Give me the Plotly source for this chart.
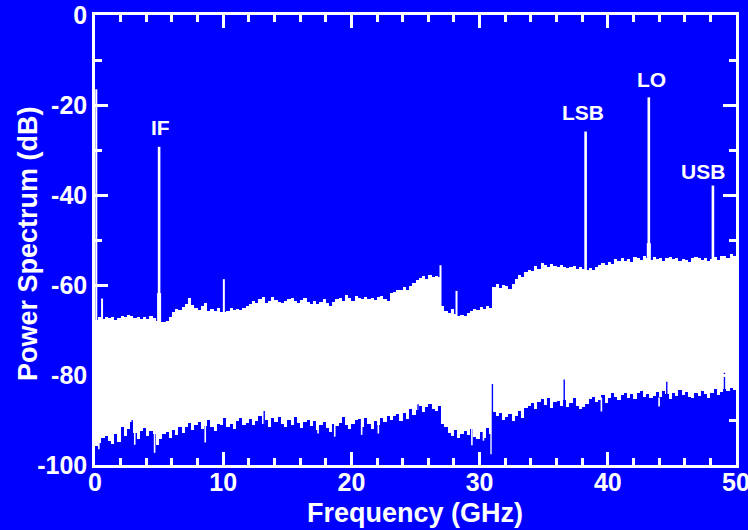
import plotly.graph_objects as go

# ---------------- data ----------------
bin_width = 0.25  # GHz
# upper envelope of the noise floor, 4 bins per GHz, 0..50 GHz
upper = [
    -67.8, -67.2, -67.6, -67.0,  -67.4, -67.1, -67.8, -67.3,  -66.9, -67.2, -66.7, -66.8,
    -67.3, -67.0, -67.6, -67.2,  -67.5, -66.9, -67.3, -68.0,  -68.2, -68.3, -68.0, -67.2,
    -66.0, -65.4, -65.6, -64.8,  -64.3, -62.9, -64.5, -65.2,  -65.6, -64.6, -64.0, -65.8,
    -65.3, -65.7, -65.1, -65.9,  -66.0, -65.8, -65.2, -65.6,  -65.4, -65.5, -65.0, -64.6,
    -64.2, -63.5, -64.0, -63.2,  -62.7, -63.9, -63.6, -62.6,  -63.4, -63.7, -64.1, -63.5,
    -63.1, -62.8, -63.6, -64.0,  -63.3, -62.9, -63.8, -64.2,  -63.5, -64.3, -63.7, -63.2,
    -63.9, -64.6, -63.8, -63.0,  -62.8, -63.5, -62.2, -62.9,  -63.6, -62.4, -62.9, -63.2,
    -62.6, -63.1, -62.8, -63.4,  -62.7, -62.5, -63.1, -63.6,  -61.8, -61.5, -61.2, -61.0,
    -60.4, -61.0, -60.2, -59.6,  -58.8, -58.4, -58.0, -58.6,  -57.8, -58.2, -57.9, -58.3,
    -64.6, -65.8, -66.2, -65.4,  -66.4, -66.8, -66.6, -66.9,  -66.2, -65.8, -65.3, -65.6,
    -64.9, -65.4, -64.6, -65.1,  -60.4, -59.8, -60.6, -59.9,  -60.2, -60.8, -59.7, -58.6,
    -57.8, -58.3, -57.2, -56.6,  -56.9, -55.8, -56.4, -55.2,  -55.6, -56.1, -55.4, -55.8,
    -56.0, -55.5, -55.9, -56.3,  -56.1, -55.7, -56.4, -56.0,  -56.5, -56.7, -56.2, -56.6,
    -55.9, -55.6, -55.2, -55.5,  -54.9, -55.3, -54.2, -54.6,  -54.0, -54.7, -54.3, -54.9,
    -53.8, -54.1, -54.5, -53.6,  -53.9, -54.4, -53.7, -54.2,  -54.0, -54.6, -54.1, -53.8,
    -54.3, -53.9, -54.7, -54.2,  -54.5, -54.9, -54.1, -53.7,  -53.9, -54.4, -54.0, -54.6,
    -54.2, -53.8, -54.5, -53.6,  -53.5, -53.9, -53.2, -53.6,
]
# lower envelope of the noise floor
lower = [
    -95.8, -95.2, -94.0, -93.5,  -94.6, -95.3, -93.2, -94.8,  -91.5, -93.6, -92.0, -90.4,
    -92.8, -94.2, -92.5, -91.8,  -93.6, -92.4, -93.0, -95.6,  -94.3, -93.1, -92.6, -94.0,
    -92.2, -93.4, -91.6, -92.8,  -91.5, -90.6, -92.3, -91.2,  -90.4, -92.1, -91.3, -90.0,
    -91.6, -92.4, -90.8, -91.0,  -89.6, -91.5, -90.8, -92.0,  -90.3, -89.5, -91.1, -90.6,
    -89.8, -91.0, -90.2, -89.1,  -90.8, -90.0, -91.5, -89.6,  -90.4, -89.3, -90.9, -91.6,
    -90.1, -91.2, -89.4, -90.7,  -91.8, -90.5, -89.9, -91.3,  -90.2, -92.3, -91.0, -90.4,
    -91.7, -92.6, -90.8, -91.4,  -90.6, -89.4, -91.2, -92.0,  -90.9, -90.1, -89.7, -91.5,
    -89.5, -90.8, -91.9, -90.2,  -91.1, -89.6, -90.4, -89.2,  -90.0, -89.1, -88.6, -90.3,
    -88.4, -89.7, -87.5, -88.9,  -87.8, -86.9, -88.2, -87.1,  -86.5, -87.6, -88.0, -86.8,
    -90.8, -91.6, -92.8, -93.5,  -92.3, -94.0, -93.2, -92.5,  -93.4, -92.1, -93.8, -94.2,
    -92.6, -93.9, -91.8, -93.0,  -88.2, -89.0, -88.5, -90.1,  -89.4, -88.7, -90.3, -89.0,
    -88.1, -89.6, -87.4, -86.8,  -86.2, -87.5, -86.0, -85.4,  -86.6, -85.2, -87.3, -86.1,
    -85.8, -86.9, -85.5, -87.0,  -86.3, -85.1, -86.8, -87.6,  -87.2, -86.4, -85.3, -84.8,
    -86.0, -85.5, -84.4, -86.2,  -85.2, -84.1, -84.8, -85.6,  -84.5, -83.9, -85.0, -84.2,
    -85.4, -84.0, -83.6, -84.8,  -84.3, -85.1, -84.6, -83.8,  -84.9, -83.5, -84.2, -85.3,
    -84.0, -84.7, -83.4, -84.5,  -83.8, -84.9, -85.2, -84.1,  -84.6, -83.6, -84.3, -85.0,
    -83.9, -83.2, -84.4, -83.7,  -83.1, -83.6, -82.8, -83.4,
]

# narrow spectral lines rising above the floor (GHz, dB)
spike_freq = [0.10, 0.55, 5.00, 10.05, 26.95, 28.20, 38.27, 43.20, 48.20]
spike_peak = [-16.5, -63.0, -29.3, -58.7, -55.6, -61.3, -25.9, -18.3, -37.9]
spike_wide = [False, False, True, False, False, False, True, True, True]
# broadened bases under the IF and LO lines
base_freq = [5.00, 43.20]
base_peak = [-61.8, -50.7]

# single-bin dips below the floor
dip_freq = [0.30, 3.10, 4.65, 8.60, 17.40, 18.70, 20.80, 22.10, 29.40, 30.30, 30.90, 39.50, 44.00]
dip_low = [-96.5, -95.5, -97.3, -95.0, -93.0, -93.7, -93.3, -93.0, -95.6, -94.6, -97.6, -88.1, -87.0]
# single-bin notches reaching up into the floor
notch_freq = [2.90, 13.20, 25.20, 31.00, 36.60, 44.60, 49.10]
notch_top = [-90.0, -88.0, -86.5, -82.0, -81.0, -81.5, -79.5]

labels = ["IF", "LSB", "LO", "USB"]
label_x = [5.07, 38.07, 43.42, 47.39]
label_y = [-25.1, -21.6, -14.3, -34.8]

x_ticks = [0, 10, 20, 30, 40, 50]
y_ticks = [0, -20, -40, -60, -80, -100]
y_ticktext = ["0", "-20", "-40", "-60", "-80", "-100"]

BLUE = "#0000FF"
WHITE = "#FFFFFF"
FONT = "Liberation Sans"

centers = [bin_width * (i + 0.5) for i in range(len(upper))]
heights = [u - l for u, l in zip(upper, lower)]

fig = go.Figure()
fig.add_trace(go.Bar(x=centers, y=heights, base=lower, width=bin_width,
                     marker=dict(color=WHITE, line=dict(width=0)), hoverinfo="skip"))


def segs(xs, y0s, y1s):
    X, Y = [], []
    for x, a, b in zip(xs, y0s, y1s):
        X += [x, x, None]
        Y += [a, b, None]
    return X, Y


# dips (white, downward)
X, Y = segs(dip_freq, [-85] * len(dip_freq), dip_low)
fig.add_trace(go.Scatter(x=X, y=Y, mode="lines", line=dict(color=WHITE, width=1.6), hoverinfo="skip"))
# notches (blue, upward into the floor)
X, Y = segs(notch_freq, [-100] * len(notch_freq), notch_top)
fig.add_trace(go.Scatter(x=X, y=Y, mode="lines", line=dict(color=BLUE, width=1.4), hoverinfo="skip"))
# bases
X, Y = segs(base_freq, [-75] * len(base_freq), base_peak)
fig.add_trace(go.Scatter(x=X, y=Y, mode="lines", line=dict(color=WHITE, width=4), hoverinfo="skip"))
# spikes
wf = [f for f, w in zip(spike_freq, spike_wide) if w]
wp = [p for p, w in zip(spike_peak, spike_wide) if w]
nf = [f for f, w in zip(spike_freq, spike_wide) if not w]
npk = [p for p, w in zip(spike_peak, spike_wide) if not w]
X, Y = segs(wf, [-75] * len(wf), wp)
fig.add_trace(go.Scatter(x=X, y=Y, mode="lines", line=dict(color=WHITE, width=2.6), hoverinfo="skip"))
X, Y = segs(nf, [-75] * len(nf), npk)
fig.add_trace(go.Scatter(x=X, y=Y, mode="lines", line=dict(color=WHITE, width=2.0), hoverinfo="skip"))

for t, x, y in zip(labels, label_x, label_y):
    fig.add_annotation(x=x, y=y, text=t, showarrow=False, xref="x", yref="y",
                       font=dict(family=FONT, size=21, color=WHITE, weight="bold"))

# axis titles
fig.add_annotation(x=0.499, y=-0.107, xref="paper", yref="paper", text="Frequency (GHz)",
                   showarrow=False, xanchor="center", yanchor="middle",
                   font=dict(family=FONT, size=27, color=WHITE, weight="bold"))
fig.add_annotation(x=-0.1045, y=0.491, xref="paper", yref="paper", text="Power Spectrum (dB)",
                   showarrow=False, xanchor="center", yanchor="middle", textangle=-90,
                   font=dict(family=FONT, size=27, color=WHITE, weight="bold"))

axis_common = dict(showgrid=False, zeroline=False, showline=True, linecolor=WHITE, linewidth=2.5,
                   mirror="ticks", ticks="inside", tickcolor=WHITE, tickwidth=2.5, automargin=False,
                   ticklabeloverflow="allow",
                   tickfont=dict(family=FONT, size=25, color=WHITE, weight="bold"))

fig.update_layout(
    width=748, height=530,
    margin=dict(l=95, r=12, t=15, b=65),
    paper_bgcolor=BLUE, plot_bgcolor=BLUE,
    showlegend=False, bargap=0,
    xaxis=dict(range=[0, 50], tickmode="array", tickvals=x_ticks, ticktext=[str(v) for v in x_ticks],
               ticklen=13, ticklabelstandoff=-7,
               minor=dict(dtick=2, tick0=0, ticklen=7, ticks="inside", tickcolor=WHITE, tickwidth=2.5),
               **axis_common),
    yaxis=dict(range=[-100, 0], tickmode="array", tickvals=y_ticks, ticktext=y_ticktext,
               ticklen=13,
               minor=dict(dtick=10, tick0=0, ticklen=7, ticks="inside", tickcolor=WHITE, tickwidth=2.5),
               **axis_common),
)

fig.write_html("out.html", config={"displayModeBar": False})
